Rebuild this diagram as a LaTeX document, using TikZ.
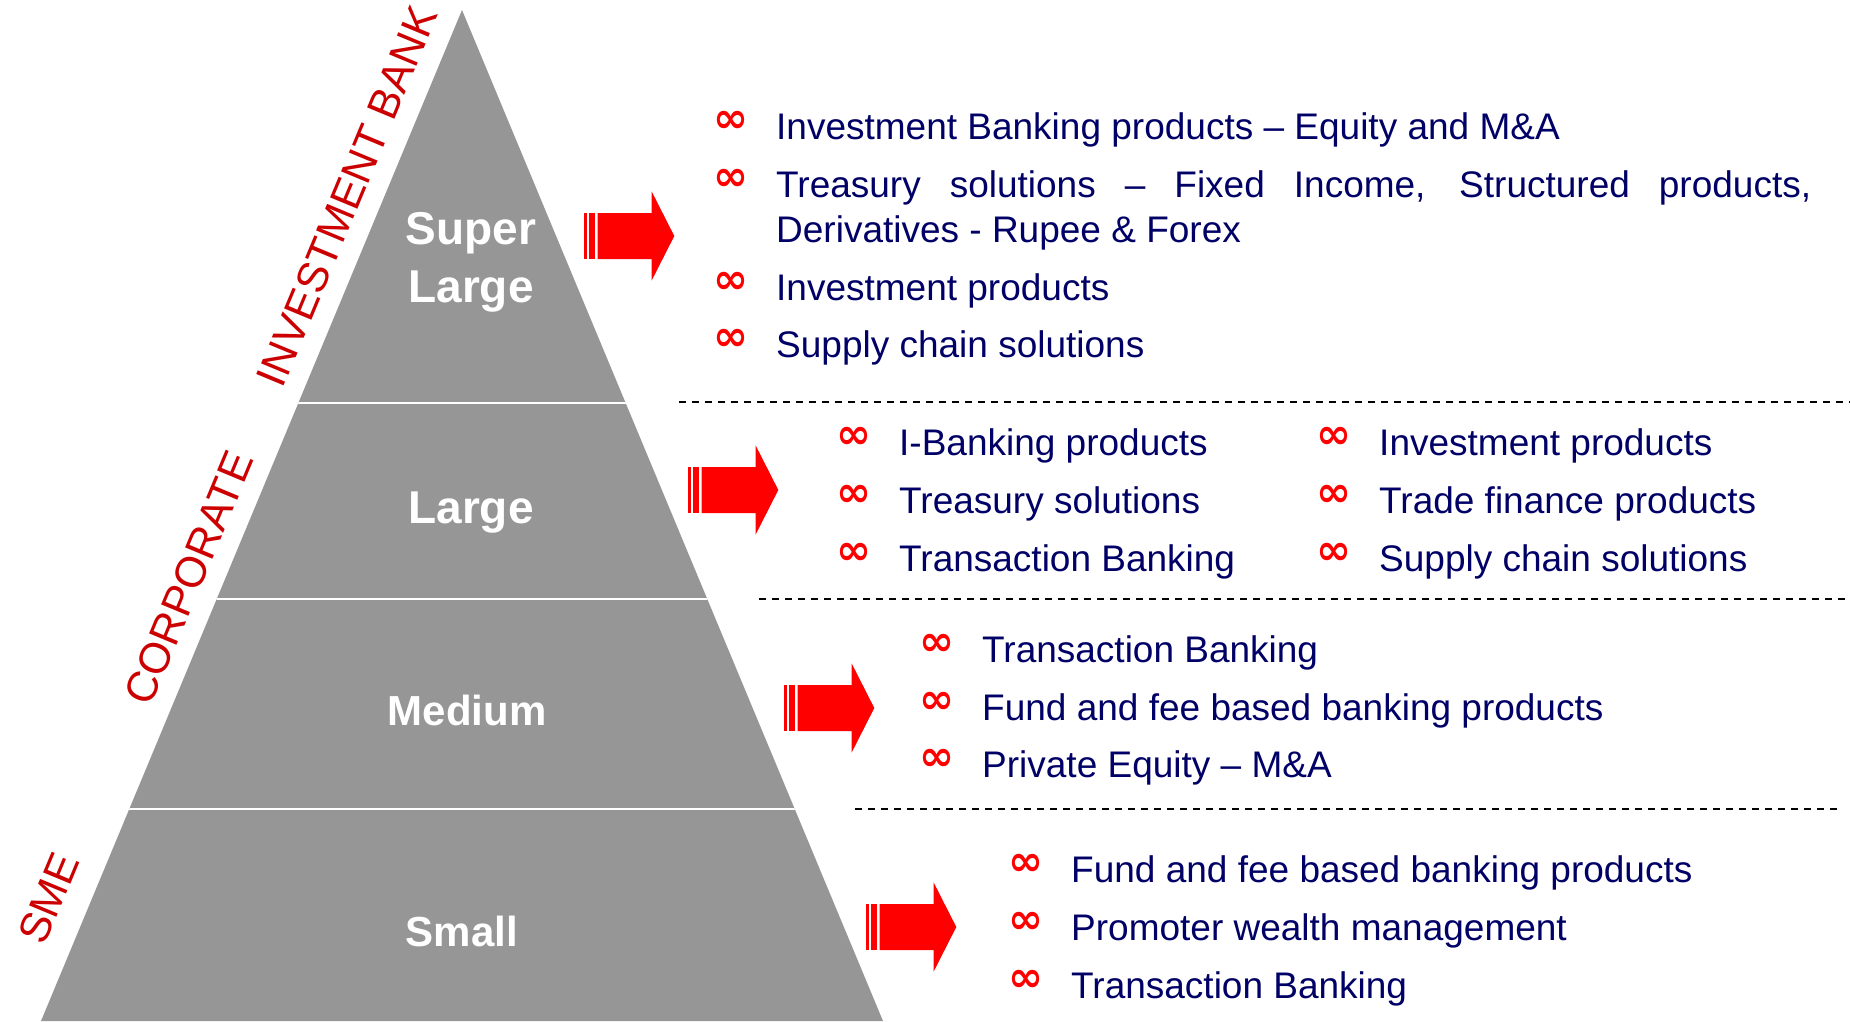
\documentclass[tikz,border=0pt]{standalone}
\usepackage{fontspec}
\setmainfont{Liberation Sans}
\newfontfamily\bulletfont{DejaVu Sans}
\definecolor{pyrgray}{RGB}{150,150,150}
\definecolor{navy}{RGB}{0,0,102}
\definecolor{segred}{RGB}{204,0,0}

\begin{document}
\begin{tikzpicture}[x=1pt,y=-1pt]
	\tikzset{tier/.style={text=white,font=\fontsize{46}{58}\selectfont\bfseries,align=center,inner sep=0pt}}
	\tikzset{segment/.style={text=segred,font=\fontsize{43}{43}\selectfont,rotate=67.4,inner sep=0pt}}
	\tikzset{item/.style={text=navy,font=\fontsize{37}{45}\selectfont,anchor=base west,align=left,inner sep=0pt}}
	\tikzset{bullet/.style={text=red,font=\bulletfont\bfseries\fontsize{42}{42}\selectfont,inner sep=0pt}}
	\tikzset{separator/.style={line width=1.8pt,dash pattern=on 7pt off 6pt}}
	\tikzset{bigarrow/.pic={
		\fill[red] (0,-23) rectangle (2.7,23);
		\fill[red] (5,-23) rectangle (11,23);
		\fill[red] (13.7,-23) -- (67.7,-23) -- (67.7,-44.5) -- (90.3,0) -- (67.7,44.5) -- (67.7,23) -- (13.7,23) -- cycle;
	}}
	\useasboundingbox (0,0) rectangle (1850,1021);

	% pyramid
	\coordinate (apex) at (462,10);
	\coordinate (baseleft) at (41,1021);
	\coordinate (baseright) at (883,1021);
	\fill[pyrgray] (apex) -- (baseleft) -- (baseright) -- cycle;
	\begin{scope}
		\clip (apex) -- (baseleft) -- (baseright) -- cycle;
		\foreach \y in {403,599,809}
			\draw[white,line width=2pt] (0,\y) -- (1000,\y);
	\end{scope}

	\node[tier] (superlarge) at (471,262) {Super\\Large};
	\node[tier,anchor=base] (large) at (471,523) {Large};
	\node[tier,anchor=base,font=\fontsize{42}{50}\selectfont\bfseries] (medium) at (467,725) {Medium};
	\node[tier,anchor=base,font=\fontsize{42}{50}\selectfont\bfseries] (small) at (462,946) {Small};

	\node[segment] (ib) at (347,196) {INVESTMENT BANK};
	\node[segment] (corporate) at (189,578) {CORPORATE};
	\node[segment] (sme) at (49,898) {SME};

	% arrows
	\foreach \ax/\ay in {584/236,688/490,784/708,866/927}
		\pic at (\ax,\ay) {bigarrow};

	% separators
	\coordinate (sepa) at (679,402);
	\coordinate (sepb) at (759,599);
	\coordinate (sepc) at (855,809);
	\draw[separator] (sepa) -- (1850,402);
	\draw[separator] (sepb) -- (1850,599);
	\draw[separator] (sepc) -- (1843,809);

	% super large
	\foreach \b in {139,197,300,357}
		\node[bullet] (slb\b) at (731,{\b-17}) {∞};
	\node[item] (sla) at (776,139) {Investment Banking products – Equity and M\&A};
	% base of a two-line node is its last line
	\node[item] (slb) at (776,242) {\makebox[1035pt][s]{Treasury solutions – Fixed Income, Structured products,}\\Derivatives - Rupee \& Forex};
	\node[item] (slc) at (776,300) {Investment products};
	\node[item] (sld) at (776,357) {Supply chain solutions};

	% large
	\foreach \b/\t [count=\i] in {455/I-Banking products,513/Treasury solutions,571/Transaction Banking}{
		\node[bullet] (lgab\i) at (854,{\b-17}) {∞};
		\node[item] (lga\i) at (899,\b) {\t};
	}
	\foreach \b/\t [count=\i] in {455/Investment products,513/Trade finance products,571/Supply chain solutions}{
		\node[bullet] (lgbb\i) at (1334,{\b-17}) {∞};
		\node[item] (lgb\i) at (1379,\b) {\t};
	}

	% medium
	\foreach \b/\t [count=\i] in {662/Transaction Banking,720/Fund and fee based banking products,777/Private Equity – M\&A}{
		\node[bullet] (mdb\i) at (937,{\b-17}) {∞};
		\node[item] (md\i) at (982,\b) {\t};
	}

	% small
	\foreach \b/\t [count=\i] in {882/Fund and fee based banking products,940/Promoter wealth management,998/Transaction Banking}{
		\node[bullet] (smb\i) at (1026,{\b-17}) {∞};
		\node[item] (sm\i) at (1071,\b) {\t};
	}
\end{tikzpicture}
\end{document}
